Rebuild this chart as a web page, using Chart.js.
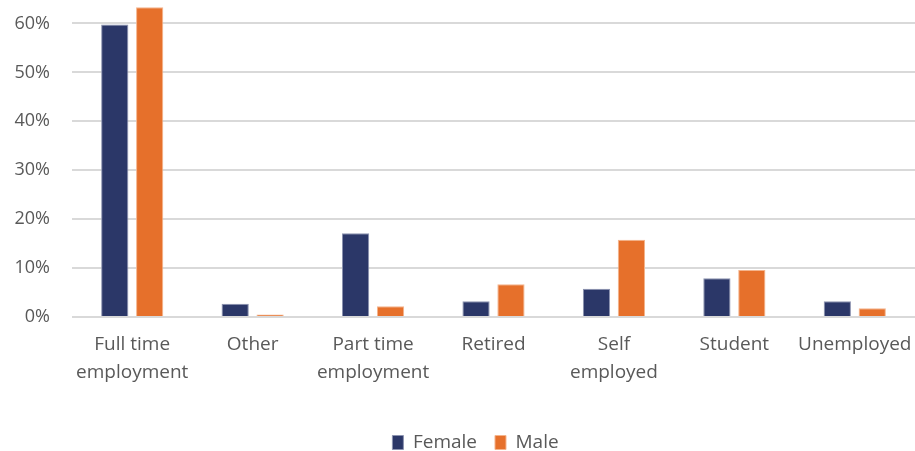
<!DOCTYPE html>
<html>
<head>
<meta charset="utf-8">
<script src="https://cdn.jsdelivr.net/npm/chart.js@4/dist/chart.umd.min.js"></script>
<style>
  html, body { margin: 0; padding: 0; background: #fff; }
  #wrap { width: 915px; height: 451px; }
</style>
</head>
<body>
<div id="wrap"><canvas id="chart" width="915" height="451"></canvas></div>
<script>
// employment status split by gender (percent of respondents)
const categories = [['Full time', 'employment'], 'Other', ['Part time', 'employment'], 'Retired', ['Self', 'employed'], 'Student', 'Unemployed'];
const female = [59.8, 2.7, 17.1, 3.2, 5.8, 7.9, 3.2];
const male = [63.3, 0.5, 2.2, 6.7, 15.8, 9.6, 1.8];
const yTicks = [0, 10, 20, 30, 40, 50, 60];

const txt = '#595959';
const family = '"Open Sans", sans-serif';

// centre the legend under the plot area rather than the whole canvas
const legendShift = {
  id: 'legendShift',
  afterLayout(chart) {
    const lg = chart.legend;
    if (lg) lg.left = chart.chartArea.left / 2;
  }
};

new Chart(document.getElementById('chart'), {
  type: 'bar',
  data: {
    labels: categories,
    datasets: [
      { label: 'Female', data: female, backgroundColor: '#2b3768', borderColor: '#8c93b0', borderWidth: 1, borderSkipped: 'bottom' },
      { label: 'Male', data: male, backgroundColor: '#e6702b', borderColor: '#f4b48c', borderWidth: 1, borderSkipped: 'bottom' }
    ]
  },
  plugins: [legendShift],
  options: {
    responsive: false,
    animation: false,
    datasets: { bar: { categoryPercentage: 0.58, barPercentage: 0.78 } },
    layout: { padding: { left: 0, right: 0, top: 0, bottom: -11 } },
    plugins: {
      tooltip: { enabled: false },
      legend: {
        position: 'bottom',
        labels: { color: txt, font: { family, size: 19 }, boxWidth: 11, boxHeight: 14, padding: 18 }
      }
    },
    scales: {
      x: {
        grid: { display: false },
        border: { display: false },
        ticks: { color: txt, font: { family, size: 19, lineHeight: 1.45 }, maxRotation: 0, autoSkip: false, padding: 6 },
        afterFit: s => { s.height = 98; s.paddingLeft = 0; s.paddingRight = 0; }
      },
      y: {
        min: 0, max: 64.8,
        afterBuildTicks: s => { s.ticks = yTicks.map(v => ({ value: v })); },
        grid: { color: '#d9d9d9', lineWidth: 2, drawTicks: false },
        border: { display: false },
        ticks: { color: txt, font: { family, size: 18 }, padding: 22, callback: v => v + '%' },
        afterFit: s => { s.width = 72; s.paddingTop = 0; s.paddingBottom = 0; }
      }
    }
  }
});
</script>
</body>
</html>
